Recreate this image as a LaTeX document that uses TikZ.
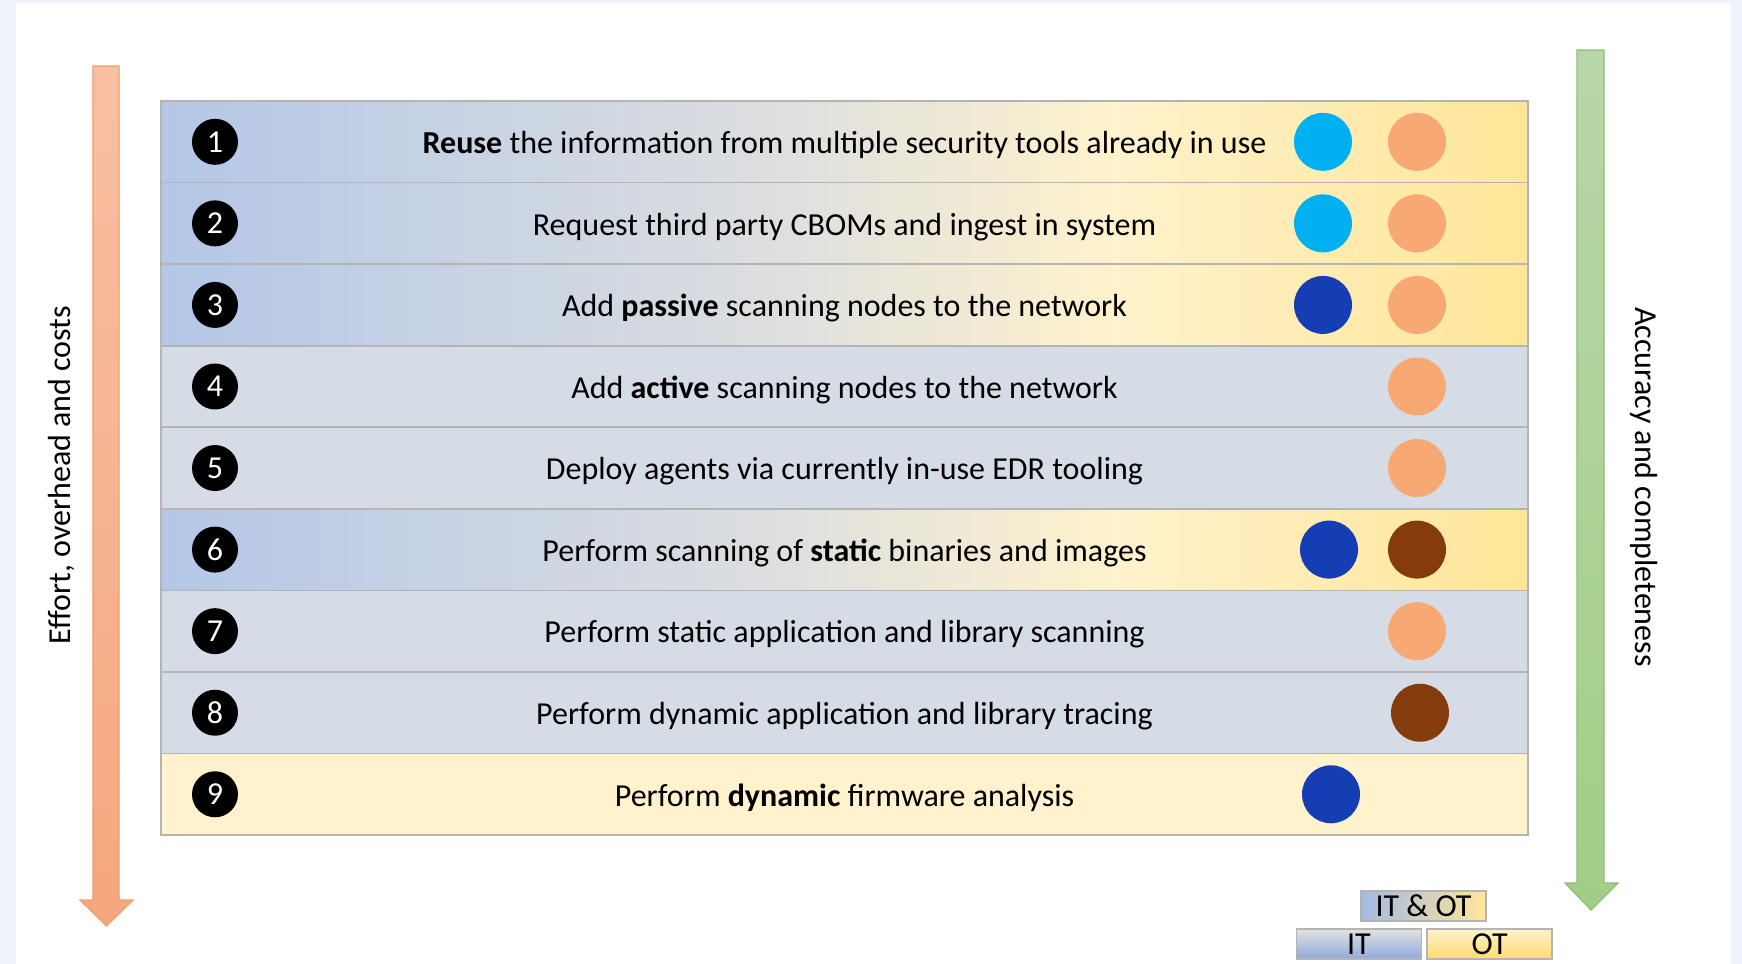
\documentclass[tikz,border=0pt]{standalone}
\usepackage{fontspec}
\setmainfont{Carlito}
\usepackage{tikz}
\usetikzlibrary{positioning,shapes}

\definecolor{pagebg}{HTML}{EEF2FA}
\definecolor{itblue}{HTML}{B4C7E7}
\definecolor{midgrey}{HTML}{DCDEE0}
\definecolor{otlight}{HTML}{FFF2CC}
\definecolor{otyellow}{HTML}{FFE699}
\definecolor{itgrey}{HTML}{D6DCE5}
\definecolor{rowline}{HTML}{B4B4B4}
\definecolor{skyblue}{HTML}{00B0F0}
\definecolor{navyblue}{HTML}{153EB5}
\definecolor{peach}{HTML}{F7A873}
\definecolor{rust}{HTML}{843C0C}
\definecolor{efforttop}{HTML}{F8C0A3}
\definecolor{effortbot}{HTML}{F5A77E}
\definecolor{effortline}{HTML}{F29C6C}
\definecolor{accutop}{HTML}{B8D7A9}
\definecolor{accubot}{HTML}{A2CD87}
\definecolor{acculine}{HTML}{8DBF6E}
\definecolor{lgblue}{HTML}{A3BAE3}
\definecolor{lgdeep}{HTML}{8EA9DB}
\definecolor{lggrey}{HTML}{E2E2E2}
\definecolor{lggold}{HTML}{FFDB6E}

\pgfdeclarehorizontalshading{itot}{100bp}{color(0bp)=(itblue); color(25bp)=(itblue);
  color(47bp)=(midgrey); color(60bp)=(otlight); color(75bp)=(otyellow); color(100bp)=(otyellow)}

\newcommand{\rowfont}{\fontsize{16}{19}\selectfont}

\tikzset{rowbox/.style={draw=rowline,line width=0.8pt,minimum width=683.5pt,
minimum height=40.78pt,inner sep=0pt,outer sep=0pt,text height=11.8pt,text depth=0pt,font=\rowfont},
rowboth/.style={rowbox,shading=itot},rowit/.style={rowbox,fill=itgrey},
rowot/.style={rowbox,fill=otlight},
numdot/.style={circle,fill=black,text=white,minimum size=23pt,inner sep=0pt,font=\rowfont},
markdot/.style={circle,minimum size=29pt,inner sep=0pt},
skydot/.style={markdot,fill=skyblue},navydot/.style={markdot,fill=navyblue},
peachdot/.style={markdot,fill=peach},rustdot/.style={markdot,fill=rust},
legend/.style={draw=rowline,line width=0.8pt,minimum width=62.5pt,minimum height=15pt,
inner sep=0pt,font=\rowfont}}

\begin{document}
\begin{tikzpicture}[x=0.5pt,y=-0.5pt]
		\useasboundingbox (0,0) rectangle (1742,964);
		\fill[pagebg] (0,0) rectangle (1742,964);
		\fill[white] (16,3) rectangle (1731,964);

		% side arrows
		\draw[draw=effortline,line width=0.6pt,top color=efforttop,bottom color=effortbot]
			(93,66) -- (119,66) -- (119,900) -- (133,900) -- (106.5,926) -- (80,900) -- (93,900) -- cycle;
		\draw[draw=acculine,line width=0.6pt,top color=accutop,bottom color=accubot]
			(1577,50) -- (1604,50) -- (1604,883) -- (1618,883) -- (1591,910) -- (1565,883) -- (1577,883) -- cycle;
		\node[rotate=90,font=\rowfont] (effort) at (61,475) {Effort, overhead and costs};
		\node[rotate=-90,font=\rowfont] (accuracy) at (1644,487) {Accuracy and completeness};

		% rows
		\node[rowboth] (r1) at (844.5,141.8) {\textbf{Reuse} the information from multiple security tools already in use};
		\node[rowboth,below=0pt of r1] (r2) {Request third party CBOMs and ingest in system};
		\node[rowboth,below=0pt of r2] (r3) {Add \textbf{passive} scanning nodes to the network};
		\node[rowit,below=0pt of r3] (r4) {Add \textbf{active} scanning nodes to the network};
		\node[rowit,below=0pt of r4] (r5) {Deploy agents via currently in-use EDR tooling};
		\node[rowboth,below=0pt of r5] (r6) {Perform scanning of \textbf{static} binaries and images};
		\node[rowit,below=0pt of r6] (r7) {Perform static application and library scanning};
		\node[rowit,below=0pt of r7] (r8) {Perform dynamic application and library tracing};
		\node[rowot,below=0pt of r8] (r9) {Perform \textbf{dynamic} firmware analysis};

		\node[numdot] (n1) at ([xshift=27pt]r1.west) {1};
		\node[numdot] (n2) at ([xshift=27pt]r2.west) {2};
		\node[numdot] (n3) at ([xshift=27pt]r3.west) {3};
		\node[numdot] (n4) at ([xshift=27pt]r4.west) {4};
		\node[numdot] (n5) at ([xshift=27pt]r5.west) {5};
		\node[numdot] (n6) at ([xshift=27pt]r6.west) {6};
		\node[numdot] (n7) at ([xshift=27pt]r7.west) {7};
		\node[numdot] (n8) at ([xshift=27pt]r8.west) {8};
		\node[numdot] (n9) at ([xshift=27pt]r9.west) {9};

		% IT / OT markers
		\coordinate (colit) at (1323,0);
		\coordinate (colot) at (1417,0);
		\node[skydot] (it1) at (colit |- r1) {};
		\node[skydot] (it2) at (colit |- r2) {};
		\node[navydot] (it3) at (colit |- r3) {};
		\node[navydot,xshift=3pt] (it6) at (colit |- r6) {};
		\node[navydot,xshift=4pt] (it9) at (colit |- r9) {};
		\node[peachdot] (ot1) at (colot |- r1) {};
		\node[peachdot] (ot2) at (colot |- r2) {};
		\node[peachdot] (ot3) at (colot |- r3) {};
		\node[peachdot] (ot4) at (colot |- r4) {};
		\node[peachdot] (ot5) at (colot |- r5) {};
		\node[rustdot] (ot6) at (colot |- r6) {};
		\node[peachdot] (ot7) at (colot |- r7) {};
		\node[rustdot,xshift=1.5pt] (ot8) at (colot |- r8) {};

		% legend
		\node[legend,left color=lgblue,middle color=lggrey,right color=otyellow] (lgboth) at (1423.5,906) {IT \& OT};
		\node[legend,top color=lggrey,bottom color=lgdeep] (lgit) at (1359,944) {IT};
		\node[legend,top color=otlight,bottom color=lggold,right=2pt of lgit] (lgot) {OT};
	\end{tikzpicture}
\end{document}
